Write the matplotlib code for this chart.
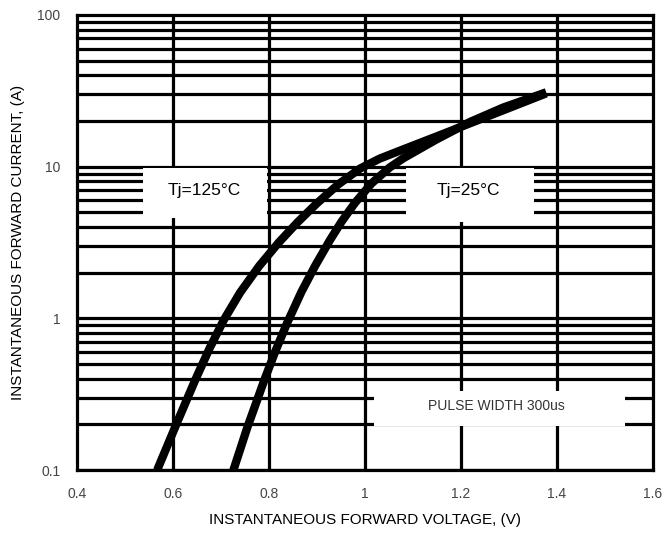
import numpy as np
import matplotlib.pyplot as plt
from matplotlib.patches import Rectangle

plt.rcParams['font.family'] = ['Liberation Sans', 'DejaVu Sans']

# forward characteristics
v_125 = [0.567, 0.608, 0.646, 0.676, 0.706, 0.74, 0.78, 0.82, 0.86, 0.9,
         0.945, 0.99, 1.031, 1.08, 1.149, 1.219, 1.288, 1.378]
i_125 = [0.1, 0.204, 0.39, 0.632, 0.977, 1.48, 2.22, 3.15, 4.31, 5.73,
         7.66, 9.72, 11.3, 13.0, 15.8, 19.3, 23.5, 30.4]
v_25 = [0.726, 0.755, 0.79, 0.813, 0.838, 0.868, 0.896, 0.927, 0.951, 0.979,
        1.014, 1.052, 1.08, 1.149, 1.219, 1.288, 1.378]
i_25 = [0.1, 0.191, 0.389, 0.603, 0.933, 1.50, 2.21, 3.27, 4.32, 5.75,
        7.76, 9.89, 11.35, 15.1, 19.7, 24.5, 30.9]

xticks = [0.4, 0.6, 0.8, 1.0, 1.2, 1.4, 1.6]
xticklabels = ['0.4', '0.6', '0.8', '1', '1.2', '1.4', '1.6']
yticks = [0.1, 1, 10, 100]
yticklabels = ['0.1', '1', '10', '100']

fig = plt.figure(figsize=(6.64, 5.33), dpi=100)
ax = fig.add_axes([0.116, 0.118, 0.867, 0.854])
ax.set_yscale('log')
ax.set_xlim(0.4, 1.6)
ax.set_ylim(0.1, 100)

# grid: all decade sub-lines horizontally, every 0.2 V vertically
for dec in [0.1, 1, 10]:
    for k in range(1, 10):
        ax.axhline(dec * k, color='black', lw=2.3, zorder=1)
for x in xticks[1:-1]:
    ax.axvline(x, color='black', lw=2.3, zorder=1)

# white label boxes that cut the grid
boxes = [(0.5375, 4.6, 0.795, 9.75), (1.085, 4.3, 1.352, 9.75), (1.019, 0.195, 1.542, 0.33)]
for x0, y0, x1, y1 in boxes:
    ax.add_patch(Rectangle((x0, y0), x1 - x0, y1 - y0, facecolor='white',
                           edgecolor='none', zorder=2))

ax.plot(v_125, i_125, color='black', lw=6, solid_capstyle='butt',
        solid_joinstyle='round', zorder=3)
ax.plot(v_25, i_25, color='black', lw=6, solid_capstyle='butt',
        solid_joinstyle='round', zorder=3)

ax.text(0.665, 7.0, 'Tj=125°C', fontsize=12.5, ha='center', va='center', zorder=4)
ax.text(1.215, 7.0, 'Tj=25°C', fontsize=12.5, ha='center', va='center', zorder=4)
ax.text(1.275, 0.265, 'PULSE WIDTH 300us', fontsize=10, ha='center', va='center',
        color='#333333', zorder=4)

for s in ax.spines.values():
    s.set_linewidth(2.3)
    s.set_zorder(5)

ax.set_xticks(xticks)
ax.set_xticklabels(xticklabels)
ax.set_yticks(yticks)
ax.set_yticklabels(yticklabels)
ax.minorticks_off()
ax.tick_params(length=0, labelsize=10, labelcolor='#444444', pad=12)

ax.set_xlabel('INSTANTANEOUS FORWARD VOLTAGE, (V)', fontsize=11, labelpad=9)
ax.set_ylabel('INSTANTANEOUS FORWARD CURRENT, (A)', fontsize=11, labelpad=9)

fig.savefig('out.png', dpi=100)
